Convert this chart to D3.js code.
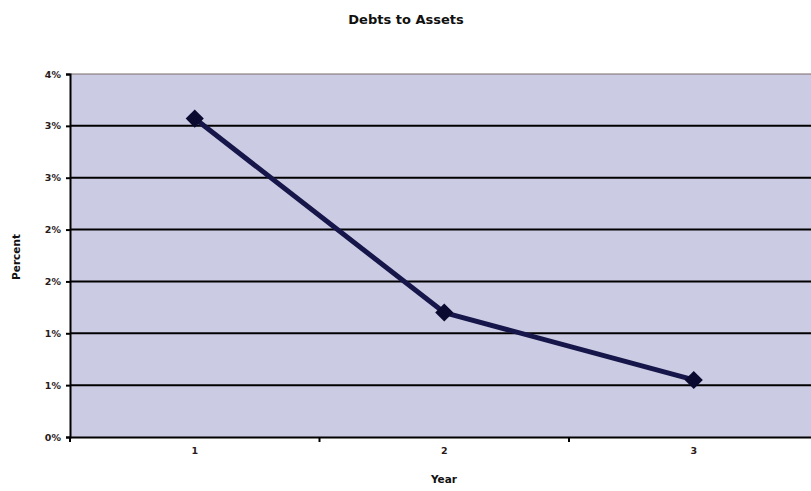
<!DOCTYPE html>
<html><head><meta charset="utf-8">
<script src="https://cdn.jsdelivr.net/npm/d3@7"></script>
<style>body{margin:0;background:#fff;}svg{display:block;}</style>
</head><body><svg id="c" width="811" height="491"></svg>
<script>
const categories = ["1", "2", "3"];
const values = [3.07, 1.2, 0.55];
const yTicks = [0, 0.5, 1, 1.5, 2, 2.5, 3, 3.5];
const yTickLabels = ["0%", "1%", "1%", "2%", "2%", "3%", "3%", "4%"];
const title = "Debts to Assets";
const xTitle = "Year";
const yTitle = "Percent";

(function(){
const svg = d3.select("#c");
const pLeft = 70, pTop = 74, pBottom = 437, pRight = 818.5;
const x = d3.scaleBand().domain(categories).range([pLeft, pRight]).padding(0);
const y = d3.scaleLinear().domain([0, 3.5]).range([pBottom, pTop]);
const font = "'DejaVu Sans', Verdana, sans-serif";

svg.append("rect").attr("x", pLeft).attr("y", pTop).attr("width", pRight - pLeft).attr("height", pBottom - pTop).attr("fill", "#cbcbe3");

svg.append("g").selectAll("line").data(yTicks.slice(1)).join("line")
  .attr("x1", pLeft).attr("x2", pRight).attr("y1", d => y(d)).attr("y2", d => y(d))
  .attr("stroke", (d,i) => i === yTicks.length - 2 ? "#7a6a6a" : "#000").attr("stroke-width", (d,i)=> i === yTicks.length - 2 ? 1 : 2);

const yAxis = d3.axisLeft(y).tickValues(yTicks).tickFormat((d,i) => yTickLabels[i]).tickSize(4).tickPadding(5);
const ga = svg.append("g").attr("transform", `translate(${pLeft},0)`).call(yAxis);
ga.select(".domain").attr("stroke", "#000").attr("stroke-width", 2);
ga.selectAll(".tick line").attr("stroke", "#000").attr("stroke-width", 2);
ga.selectAll("text").attr("font-family", font).attr("font-size", 9.5).attr("font-weight", "bold").attr("fill", "#2a1a1a");

const xb = d3.axisBottom(x).tickSize(0).tickPadding(10);
const gx = svg.append("g").attr("transform", `translate(0,${pBottom})`).call(xb);
gx.select(".domain").attr("stroke", "#000").attr("stroke-width", 2);
gx.selectAll("text").attr("font-family", font).attr("font-size", 9.5).attr("font-weight", "bold").attr("fill", "#2a1a1a");
const bounds = categories.map(c => x(c)).concat([pRight]);
svg.append("g").selectAll("line").data(bounds).join("line")
  .attr("x1", d => d).attr("x2", d => d).attr("y1", pBottom).attr("y2", pBottom + 5)
  .attr("stroke", "#000").attr("stroke-width", 2);

const line = d3.line().x((d,i) => x(categories[i]) + x.bandwidth()/2).y(d => y(d));
svg.append("path").datum(values).attr("d", line).attr("fill", "none").attr("stroke", "#16164a").attr("stroke-width", 5).attr("stroke-linejoin", "round");

svg.append("g").selectAll("path").data(values).join("path")
  .attr("d", d3.symbol().type(d3.symbolDiamond2).size(210))
  .attr("transform", (d,i) => `translate(${x(categories[i]) + x.bandwidth()/2},${y(d)})`)
  .attr("fill", "#0a0a30");

svg.append("text").attr("x", 406).attr("y", 24).attr("text-anchor", "middle")
  .attr("font-family", font).attr("font-size", 13).attr("font-weight", "bold").attr("fill", "#111").text(title);
svg.append("text").attr("x", 444).attr("y", 483).attr("text-anchor", "middle")
  .attr("font-family", font).attr("font-size", 10.5).attr("font-weight", "bold").attr("fill", "#111").text(xTitle);
svg.append("text").attr("transform", "translate(20,257) rotate(-90)").attr("text-anchor", "middle")
  .attr("font-family", font).attr("font-size", 10.5).attr("font-weight", "bold").attr("fill", "#111").text(yTitle);
})();
</script></body></html>
